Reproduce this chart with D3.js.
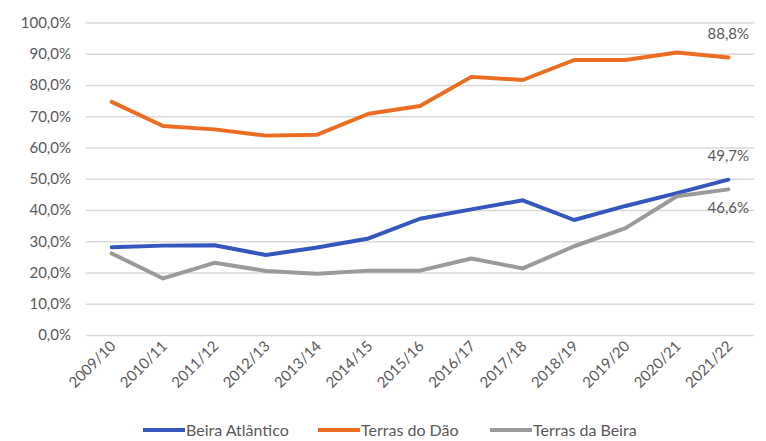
<!DOCTYPE html>
<meta charset="utf-8">
<script src="https://d3js.org/d3.v7.min.js"></script>
<style>
  body { margin: 0; background: #fff; }
  text { font-family: Lato, "Open Sans", sans-serif; fill: #595959; }
</style>
<div id="chart"></div>
<script>
  var width = 766, height = 441

  // school years on the x axis
  var anos = ["2009/10", "2010/11", "2011/12", "2012/13", "2013/14", "2014/15", "2015/16",
              "2016/17", "2017/18", "2018/19", "2019/20", "2020/21", "2021/22"]

  // values in %
  var beiraAtlantico = [28.1, 28.6, 28.7, 25.6, 28.0, 30.9, 37.2, 40.2, 43.1, 36.8, 41.3, 45.4, 49.7]
  var terrasDoDao    = [74.6, 66.9, 65.8, 63.8, 64.1, 70.8, 73.3, 82.6, 81.6, 88.0, 88.0, 90.4, 88.8]
  var terrasDaBeira  = [26.1, 18.1, 23.1, 20.5, 19.6, 20.6, 20.6, 24.5, 21.3, 28.4, 34.2, 44.4, 46.6]

  var yTicks = [0, 10, 20, 30, 40, 50, 60, 70, 80, 90, 100]

  var series = [
    { name: "Beira Atlântico", values: beiraAtlantico, color: "#3457bd", label: "above" },
    { name: "Terras do Dão",   values: terrasDoDao,    color: "#eb6d22", label: "above" },
    { name: "Terras da Beira", values: terrasDaBeira,  color: "#9a9a9a", label: "below" }
  ]

  var svg = d3.select("#chart").append("svg")
    .attr("width", width)
    .attr("height", height)

  var x = d3.scaleBand().domain(anos).range([86, 754])
  var y = d3.scaleLinear().domain([0, 100]).range([335, 22.5])
  var cx = function(d) { return x(d) + x.bandwidth() / 2 }

  var fmt = function(v) { return v.toFixed(1).replace(".", ",") + "%" }

  // gridlines + y labels
  var yAxis = svg.append("g")
    .attr("transform", "translate(86,0)")
    .call(d3.axisLeft(y).tickValues(yTicks).tickSize(-668).tickPadding(15).tickFormat(fmt))
  yAxis.select(".domain").remove()
  yAxis.selectAll(".tick line").attr("stroke", "#d9d9d9").attr("stroke-width", 1.3)
  yAxis.selectAll(".tick text").style("font-size", "15px").attr("fill", "#595959")

  // x labels
  var xAxis = svg.append("g")
    .attr("transform", "translate(0,335)")
    .call(d3.axisBottom(x).tickSize(0).tickPadding(0))
  xAxis.select(".domain").remove()
  xAxis.selectAll(".tick text")
    .style("font-size", "15px")
    .attr("fill", "#595959")
    .attr("text-anchor", "end")
    .attr("dy", null)
    .attr("transform", "translate(5,12) rotate(-45)")

  var line = d3.line()
    .x(function(d, i) { return cx(anos[i]) })
    .y(function(d) { return y(d) })

  svg.selectAll(".serie")
    .data(series)
    .enter().append("path")
    .attr("class", "serie")
    .attr("d", function(s) { return line(s.values) })
    .attr("fill", "none")
    .attr("stroke", function(s) { return s.color })
    .attr("stroke-width", 4)
    .attr("stroke-linejoin", "round")
    .attr("stroke-linecap", "round")

  // last-point labels
  var last = anos.length - 1
  svg.selectAll(".lbl")
    .data(series)
    .enter().append("text")
    .attr("class", "lbl")
    .attr("x", cx(anos[last]))
    .attr("y", function(s) {
      var v = y(s.values[last])
      return s.label == "above" ? v - 19 : v + 24
    })
    .attr("text-anchor", "middle")
    .style("font-size", "15px")
    .text(function(s) { return fmt(s.values[last]) })

  // legend
  var legX = [143, 318, 490]
  var leg = svg.selectAll(".leg")
    .data(series)
    .enter().append("g")
    .attr("class", "leg")
    .attr("transform", function(s, i) { return "translate(" + legX[i] + ",430)" })
  leg.append("line")
    .attr("x1", 0).attr("x2", 42)
    .attr("stroke", function(s) { return s.color })
    .attr("stroke-width", 4)
  leg.append("text")
    .attr("x", 43)
    .attr("dy", "0.35em")
    .style("font-size", "16px")
    .text(function(s) { return s.name })
</script>
